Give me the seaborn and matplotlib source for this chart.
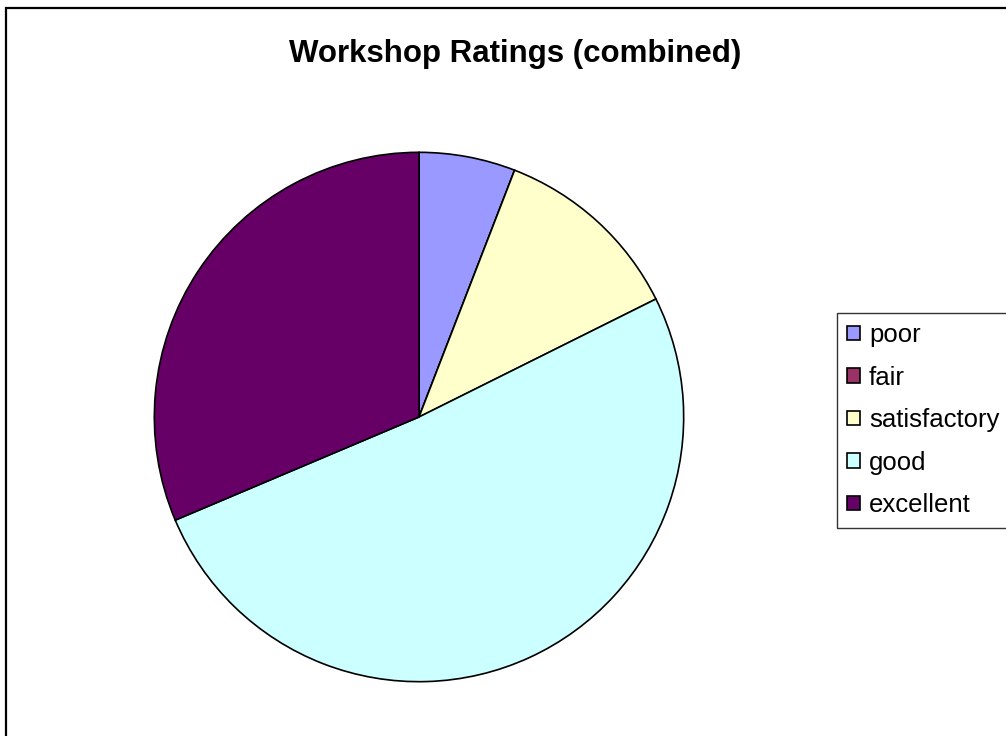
import matplotlib
matplotlib.use("Agg")
import matplotlib.pyplot as plt
import seaborn as sns
from matplotlib.patches import Patch, Rectangle

# Workshop rating counts
categories = ["poor", "fair", "satisfactory", "good", "excellent"]
counts = [3, 0, 6, 26, 16]
colors = ["#9999FF", "#993366", "#FFFFCC", "#CCFFFF", "#660066"]

sns.set_style("white")
plt.rcParams["font.family"] = ["Liberation Sans", "DejaVu Sans"]
plt.rcParams["text.color"] = "black"

fig = plt.figure(figsize=(10.06, 7.36), dpi=100)
W, H = 1006, 736

# outer chart frame (right and bottom edges fall off the image)
fig.patches.append(Rectangle((6 / W, -0.05), 1.1, 1 - 8 / H + 0.05,
                             transform=fig.transFigure, fill=False,
                             edgecolor="black", linewidth=1.6))

# pie axes: centre (419, 417), radius 266 px
ax = fig.add_axes([153 / W, (H - 683) / H, 532 / W, 532 / H])
ax.pie(counts, colors=sns.color_palette(colors), startangle=90, counterclock=False,
       radius=1, wedgeprops=dict(edgecolor="black", linewidth=1.2))
ax.set_xlim(-1.005, 1.005)
ax.set_ylim(-1.005, 1.005)
ax.set_aspect("equal")
ax.axis("off")

fig.text(515 / W, 1 - 54 / H, "Workshop Ratings (combined)", ha="center", va="center",
         fontsize=22.5, fontweight="bold", color="black")

handles = [Patch(facecolor=c, edgecolor="black", linewidth=1.2) for c in colors]
leg = fig.legend(handles, categories, loc="upper left",
                 bbox_to_anchor=(837 / W, 1 - 313 / H), fontsize=18.5,
                 frameon=True, fancybox=False, edgecolor="black",
                 handlelength=0.5, handleheight=0.5, handletextpad=0.35,
                 labelspacing=0.72, borderpad=0.4, borderaxespad=0)
leg.get_frame().set_linewidth(1.0)
for t in leg.get_texts():
    t.set_color("black")

plt.savefig("out.png", dpi=100)
